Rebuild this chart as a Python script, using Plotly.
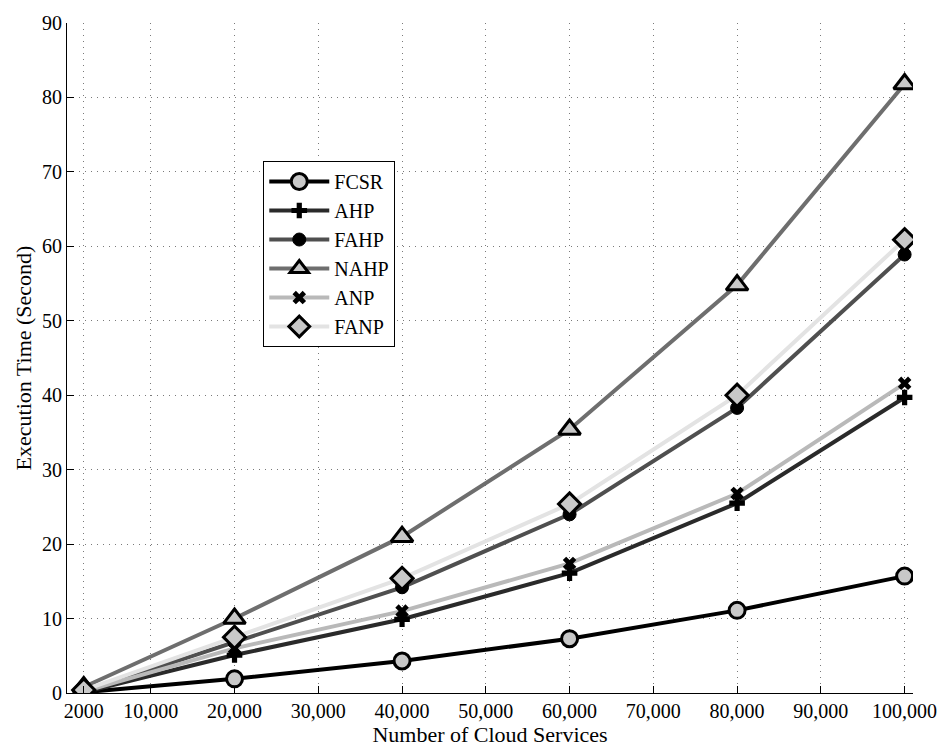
import plotly.graph_objects as go

x_vals = [2000, 20000, 40000, 60000, 80000, 100000]
fcsr = [0.1, 1.9, 4.3, 7.3, 11.1, 15.7]
ahp = [0.1, 5.1, 9.9, 16.1, 25.5, 39.7]
fahp = [0.2, 6.8, 14.2, 24.0, 38.3, 58.9]
nahp = [0.8, 10.0, 21.0, 35.4, 54.8, 81.8]
anp = [0.2, 6.0, 11.0, 17.4, 26.8, 41.6]
fanp = [0.4, 7.5, 15.4, 25.4, 40.0, 60.9]

x_tickvals = [2000, 10000, 20000, 30000, 40000, 50000, 60000, 70000, 80000, 90000, 100000]
x_ticktext = ["2000", "10,000", "20,000", "30,000", "40,000", "50,000",
              "60,000", "70,000", "80,000", "90,000", "100,000"]
y_tickvals = [0, 10, 20, 30, 40, 50, 60, 70, 80, 90]

FONT = "Liberation Serif"

series = [
    ("FCSR", fcsr, "#000000", dict(symbol="circle", size=16, color="#c8c8c8", line=dict(color="black", width=3))),
    ("AHP", ahp, "#2a2a2a", dict(symbol="cross", size=13, color="black", line=dict(color="black", width=0))),
    ("FAHP", fahp, "#4f4f4f", dict(symbol="circle", size=13, color="black", line=dict(color="black", width=1))),
    ("NAHP", nahp, "#6e6e6e", dict(symbol="triangle-up", size=19, color="#c8c8c8", line=dict(color="black", width=3))),
    ("ANP", anp, "#b9b9b9", dict(symbol="x", size=12, color="black", line=dict(color="black", width=0))),
    ("FANP", fanp, "#e3e3e3", dict(symbol="diamond", size=17, color="#c8c8c8", line=dict(color="black", width=3))),
]

fig = go.Figure()
for name, vals, col, mk in series:
    fig.add_trace(go.Scatter(x=x_vals, y=vals, name=name, mode="lines+markers",
                             line=dict(color=col, width=4), marker=mk))

grid = dict(showgrid=True, gridcolor="#7a7a7a", griddash="1px,5px", gridwidth=1,
            showline=True, linecolor="black", linewidth=1,
            ticks="inside", ticklen=7, tickcolor="black", zeroline=False)

fig.update_layout(
    width=952, height=750,
    margin=dict(l=67, r=39, t=18, b=57),
    paper_bgcolor="white", plot_bgcolor="white",
    font=dict(family=FONT, size=20, color="black"),
    showlegend=True,
    legend=dict(x=0.232, y=0.794, xanchor="left", yanchor="top",
                bordercolor="black", borderwidth=1, bgcolor="white",
                font=dict(family=FONT, size=20), tracegroupgap=0,
                itemwidth=60),
    xaxis=dict(range=[0, 101000], tickvals=x_tickvals, ticktext=x_ticktext,
               title=dict(text="Number of Cloud Services", font=dict(family=FONT, size=22), standoff=0),
               tickfont=dict(family=FONT, size=20), **grid),
    yaxis=dict(range=[0, 90], tickvals=y_tickvals,
               title=dict(text="Execution Time (Second)", font=dict(family=FONT, size=22), standoff=4),
               tickfont=dict(family=FONT, size=20), **grid),
)

fig.write_html("out.html")
